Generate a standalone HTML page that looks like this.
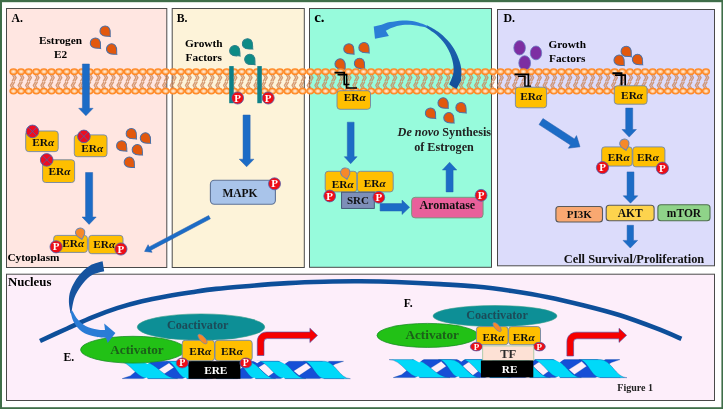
<!DOCTYPE html>
<html><head><meta charset="utf-8"><title>Figure 1</title>
<style>html,body{margin:0;padding:0;background:#fff;}body{width:723px;height:409px;overflow:hidden;}svg{display:block;font-family:"Liberation Serif",serif;will-change:transform;}</style>
</head><body>
<svg width="723" height="409" viewBox="0 0 723 409">
<rect x="0" y="0" width="723" height="409" fill="#3f6e49"/>
<defs><filter id="soft" x="-2%" y="-2%" width="104%" height="104%"><feGaussianBlur stdDeviation="0.45"/></filter></defs>
<g filter="url(#soft)">
<rect x="2" y="2.2" width="719.4" height="405" fill="#ffffff"/>
<rect x="6.5" y="8.5" width="160.3" height="259.0" fill="#ffe6e1" stroke="#4a4a4a" stroke-width="1"/>
<rect x="172.2" y="8.5" width="132.10000000000002" height="259.0" fill="#fdf3d9" stroke="#4a4a4a" stroke-width="1"/>
<rect x="309.5" y="8.5" width="182.0" height="258.8" fill="#97fbdc" stroke="#4a4a4a" stroke-width="1"/>
<rect x="497.5" y="9.5" width="217.0" height="256.3" fill="#dcdcfb" stroke="#4a4a4a" stroke-width="1"/>
<rect x="6.5" y="274.2" width="708.0" height="126.30000000000001" fill="#fdeefa" stroke="#4a4a4a" stroke-width="1"/>
<text x="11.60" y="22.10" font-size="11.7" text-anchor="start" fill="#000" font-weight="bold" font-style="normal" >A.</text>
<text x="60.50" y="44.20" font-size="11.3" text-anchor="middle" fill="#000" font-weight="bold" font-style="normal" >Estrogen</text>
<text x="60.50" y="57.60" font-size="11.3" text-anchor="middle" fill="#000" font-weight="bold" font-style="normal" >E2</text>
<path d="M0,7.2 C-1.4,5 -5.1,3.4 -5.1,-0.5 A5.1,4.9 0 1 1 5.1,-0.5 C5.1,3.4 1.4,5 0,7.2 Z" transform="translate(105.30,31.30) rotate(-44) scale(1.0)" fill="#e2590a" stroke="#4a70a8" stroke-width="1.00"/>
<path d="M0,7.2 C-1.4,5 -5.1,3.4 -5.1,-0.5 A5.1,4.9 0 1 1 5.1,-0.5 C5.1,3.4 1.4,5 0,7.2 Z" transform="translate(95.60,43.30) rotate(-44) scale(1.0)" fill="#e2590a" stroke="#4a70a8" stroke-width="1.00"/>
<path d="M0,7.2 C-1.4,5 -5.1,3.4 -5.1,-0.5 A5.1,4.9 0 1 1 5.1,-0.5 C5.1,3.4 1.4,5 0,7.2 Z" transform="translate(111.80,49.20) rotate(-44) scale(1.0)" fill="#e2590a" stroke="#4a70a8" stroke-width="1.00"/>
<rect x="25.70" y="131.00" width="32.50" height="20.60" rx="3" ry="3" fill="#ffbf00" stroke="#6f86a8" stroke-width="0.9" />
<text x="43.15" y="146.03" font-size="11.3" text-anchor="middle" font-weight="bold" fill="#111">ER<tspan font-style="italic">α</tspan></text>
<rect x="74.30" y="134.90" width="32.70" height="21.80" rx="3" ry="3" fill="#ffbf00" stroke="#6f86a8" stroke-width="0.9" />
<text x="92.15" y="151.63" font-size="11.3" text-anchor="middle" font-weight="bold" fill="#111">ER<tspan font-style="italic">α</tspan></text>
<rect x="42.60" y="159.80" width="32.00" height="22.70" rx="3" ry="3" fill="#ffbf00" stroke="#6f86a8" stroke-width="0.9" />
<text x="59.40" y="175.38" font-size="11.3" text-anchor="middle" font-weight="bold" fill="#111">ER<tspan font-style="italic">α</tspan></text>
<circle cx="32.50" cy="131.40" r="6.3" fill="#ec0a20" stroke="#4f62a8" stroke-width="0.9"/>
<path d="M28.09,126.99 L36.91,135.81 M36.91,126.99 L28.09,135.81" stroke="#5a5aa0" stroke-width="0.9" fill="none"/>
<circle cx="83.90" cy="136.40" r="6.3" fill="#ec0a20" stroke="#4f62a8" stroke-width="0.9"/>
<path d="M79.49,131.99 L88.31,140.81 M88.31,131.99 L79.49,140.81" stroke="#5a5aa0" stroke-width="0.9" fill="none"/>
<circle cx="46.70" cy="159.90" r="6.3" fill="#ec0a20" stroke="#4f62a8" stroke-width="0.9"/>
<path d="M42.29,155.49 L51.11,164.31 M51.11,155.49 L42.29,164.31" stroke="#5a5aa0" stroke-width="0.9" fill="none"/>
<path d="M0,7.2 C-1.4,5 -5.1,3.4 -5.1,-0.5 A5.1,4.9 0 1 1 5.1,-0.5 C5.1,3.4 1.4,5 0,7.2 Z" transform="translate(131.50,133.80) rotate(-44) scale(1.0)" fill="#e2590a" stroke="#4a70a8" stroke-width="1.00"/>
<path d="M0,7.2 C-1.4,5 -5.1,3.4 -5.1,-0.5 A5.1,4.9 0 1 1 5.1,-0.5 C5.1,3.4 1.4,5 0,7.2 Z" transform="translate(145.60,138.20) rotate(-44) scale(1.0)" fill="#e2590a" stroke="#4a70a8" stroke-width="1.00"/>
<path d="M0,7.2 C-1.4,5 -5.1,3.4 -5.1,-0.5 A5.1,4.9 0 1 1 5.1,-0.5 C5.1,3.4 1.4,5 0,7.2 Z" transform="translate(121.90,146.00) rotate(-44) scale(1.0)" fill="#e2590a" stroke="#4a70a8" stroke-width="1.00"/>
<path d="M0,7.2 C-1.4,5 -5.1,3.4 -5.1,-0.5 A5.1,4.9 0 1 1 5.1,-0.5 C5.1,3.4 1.4,5 0,7.2 Z" transform="translate(137.50,149.90) rotate(-44) scale(1.0)" fill="#e2590a" stroke="#4a70a8" stroke-width="1.00"/>
<path d="M0,7.2 C-1.4,5 -5.1,3.4 -5.1,-0.5 A5.1,4.9 0 1 1 5.1,-0.5 C5.1,3.4 1.4,5 0,7.2 Z" transform="translate(129.50,162.40) rotate(-44) scale(1.0)" fill="#e2590a" stroke="#4a70a8" stroke-width="1.00"/>
<rect x="53.70" y="235.40" width="33.70" height="17.00" rx="3" ry="3" fill="#ffbf00" stroke="#6f86a8" stroke-width="0.9" />
<text x="73.25" y="247.13" font-size="11.3" text-anchor="middle" font-weight="bold" fill="#111">ER<tspan font-style="italic">α</tspan></text>
<rect x="88.70" y="235.40" width="34.30" height="18.30" rx="3" ry="3" fill="#ffbf00" stroke="#6f86a8" stroke-width="0.9" />
<text x="104.25" y="248.08" font-size="11.3" text-anchor="middle" font-weight="bold" fill="#111">ER<tspan font-style="italic">α</tspan></text>
<path d="M0,7.2 C-1.4,5 -5.1,3.4 -5.1,-0.5 A5.1,4.9 0 1 1 5.1,-0.5 C5.1,3.4 1.4,5 0,7.2 Z" transform="translate(80.30,233.00) rotate(-14) scale(0.92)" fill="#f6892c" stroke="#6a86b0" stroke-width="1.09"/>
<ellipse cx="56.10" cy="246.80" rx="6.1" ry="6.1" fill="#ee0a14" stroke="#4f5fae" stroke-width="0.8"/>
<text x="56.10" y="250.49" font-size="11" text-anchor="middle" font-weight="bold" fill="#fff">P</text>
<ellipse cx="120.90" cy="249.00" rx="6.1" ry="6.1" fill="#ee0a14" stroke="#4f5fae" stroke-width="0.8"/>
<text x="120.90" y="252.69" font-size="11" text-anchor="middle" font-weight="bold" fill="#fff">P</text>
<text x="7.40" y="261.30" font-size="11.3" text-anchor="start" fill="#000" font-weight="bold" font-style="normal" >Cytoplasm</text>
<polygon transform="translate(209.50,217.20) rotate(152.21)" points="0.00,-1.85 67.16,-1.85 67.16,-4.30 73.36,0.00 67.16,4.30 67.16,1.85 0.00,1.85" fill="#1a6cc6" stroke="#2a62b0" stroke-width="0.5"/>
<text x="176.80" y="22.10" font-size="11.7" text-anchor="start" fill="#000" font-weight="bold" font-style="normal" >B.</text>
<text x="203.80" y="46.60" font-size="11.3" text-anchor="middle" fill="#000" font-weight="bold" font-style="normal" >Growth</text>
<text x="203.80" y="60.50" font-size="11.3" text-anchor="middle" fill="#000" font-weight="bold" font-style="normal" >Factors</text>
<path d="M0,7.2 C-1.4,5 -5.1,3.4 -5.1,-0.5 A5.1,4.9 0 1 1 5.1,-0.5 C5.1,3.4 1.4,5 0,7.2 Z" transform="translate(247.70,44.00) rotate(-45) scale(1.0)" fill="#0d8b85" stroke="#2a7f8a" stroke-width="1.00"/>
<path d="M0,7.2 C-1.4,5 -5.1,3.4 -5.1,-0.5 A5.1,4.9 0 1 1 5.1,-0.5 C5.1,3.4 1.4,5 0,7.2 Z" transform="translate(235.00,50.90) rotate(-45) scale(1.0)" fill="#0d8b85" stroke="#2a7f8a" stroke-width="1.00"/>
<path d="M0,7.2 C-1.4,5 -5.1,3.4 -5.1,-0.5 A5.1,4.9 0 1 1 5.1,-0.5 C5.1,3.4 1.4,5 0,7.2 Z" transform="translate(250.00,59.60) rotate(-45) scale(1.0)" fill="#0d8b85" stroke="#2a7f8a" stroke-width="1.00"/>
<rect x="210.40" y="180.20" width="65.00" height="24.10" rx="4" ry="4" fill="#a9c4ea" stroke="#5f7396" stroke-width="1.1" />
<text x="240.00" y="197.00" font-size="11.5" text-anchor="middle" fill="#111" font-weight="bold" font-style="normal" >MAPK</text>
<ellipse cx="274.50" cy="183.80" rx="6.0" ry="6.0" fill="#ee0a14" stroke="#4f5fae" stroke-width="0.8"/>
<text x="274.50" y="187.49" font-size="11" text-anchor="middle" font-weight="bold" fill="#fff">P</text>
<text x="314.20" y="22.20" font-size="15" text-anchor="start" fill="#000" font-weight="bold" font-style="normal" >c.</text>
<path d="M0,7.2 C-1.4,5 -5.1,3.4 -5.1,-0.5 A5.1,4.9 0 1 1 5.1,-0.5 C5.1,3.4 1.4,5 0,7.2 Z" transform="translate(349.10,49.00) rotate(-44) scale(1.0)" fill="#e2590a" stroke="#4a70a8" stroke-width="1.00"/>
<path d="M0,7.2 C-1.4,5 -5.1,3.4 -5.1,-0.5 A5.1,4.9 0 1 1 5.1,-0.5 C5.1,3.4 1.4,5 0,7.2 Z" transform="translate(364.20,47.80) rotate(-44) scale(1.0)" fill="#e2590a" stroke="#4a70a8" stroke-width="1.00"/>
<path d="M0,7.2 C-1.4,5 -5.1,3.4 -5.1,-0.5 A5.1,4.9 0 1 1 5.1,-0.5 C5.1,3.4 1.4,5 0,7.2 Z" transform="translate(340.30,64.20) rotate(-44) scale(1.0)" fill="#e2590a" stroke="#4a70a8" stroke-width="1.00"/>
<path d="M0,7.2 C-1.4,5 -5.1,3.4 -5.1,-0.5 A5.1,4.9 0 1 1 5.1,-0.5 C5.1,3.4 1.4,5 0,7.2 Z" transform="translate(359.70,63.60) rotate(-44) scale(1.0)" fill="#e2590a" stroke="#4a70a8" stroke-width="1.00"/>
<path d="M0,7.2 C-1.4,5 -5.1,3.4 -5.1,-0.5 A5.1,4.9 0 1 1 5.1,-0.5 C5.1,3.4 1.4,5 0,7.2 Z" transform="translate(443.30,103.20) rotate(-44) scale(1.0)" fill="#e2590a" stroke="#4a70a8" stroke-width="1.00"/>
<path d="M0,7.2 C-1.4,5 -5.1,3.4 -5.1,-0.5 A5.1,4.9 0 1 1 5.1,-0.5 C5.1,3.4 1.4,5 0,7.2 Z" transform="translate(461.20,107.80) rotate(-44) scale(1.0)" fill="#e2590a" stroke="#4a70a8" stroke-width="1.00"/>
<path d="M0,7.2 C-1.4,5 -5.1,3.4 -5.1,-0.5 A5.1,4.9 0 1 1 5.1,-0.5 C5.1,3.4 1.4,5 0,7.2 Z" transform="translate(430.70,113.30) rotate(-44) scale(1.0)" fill="#e2590a" stroke="#4a70a8" stroke-width="1.00"/>
<path d="M0,7.2 C-1.4,5 -5.1,3.4 -5.1,-0.5 A5.1,4.9 0 1 1 5.1,-0.5 C5.1,3.4 1.4,5 0,7.2 Z" transform="translate(449.10,117.90) rotate(-44) scale(1.0)" fill="#e2590a" stroke="#4a70a8" stroke-width="1.00"/>
<text x="397.6" y="136.2" font-size="12.2" font-weight="bold" fill="#222"><tspan font-style="italic">De novo</tspan> Synthesis</text>
<text x="444.00" y="150.80" font-size="12.2" text-anchor="middle" fill="#222" font-weight="bold" font-style="normal" >of Estrogen</text>
<rect x="325.20" y="171.30" width="31.60" height="20.60" rx="3" ry="3" fill="#ffbf00" stroke="#6f86a8" stroke-width="0.9" />
<text x="342.80" y="187.53" font-size="11.3" text-anchor="middle" font-weight="bold" fill="#111">ER<tspan font-style="italic">α</tspan></text>
<rect x="357.40" y="171.30" width="35.80" height="20.60" rx="3" ry="3" fill="#ffbf00" stroke="#6f86a8" stroke-width="0.9" />
<text x="374.80" y="187.23" font-size="11.3" text-anchor="middle" font-weight="bold" fill="#111">ER<tspan font-style="italic">α</tspan></text>
<path d="M0,7.2 C-1.4,5 -5.1,3.4 -5.1,-0.5 A5.1,4.9 0 1 1 5.1,-0.5 C5.1,3.4 1.4,5 0,7.2 Z" transform="translate(345.40,172.90) rotate(-14) scale(0.92)" fill="#f6892c" stroke="#6a86b0" stroke-width="1.09"/>
<rect x="341.6" y="192.2" width="32.7" height="16.2" fill="#7d8fb8" stroke="#3f4f6f" stroke-width="0.9"/>
<text x="358.00" y="203.60" font-size="11" text-anchor="middle" fill="#111" font-weight="bold" font-style="normal" >SRC</text>
<ellipse cx="329.70" cy="196.00" rx="5.9" ry="5.9" fill="#ee0a14" stroke="#4f5fae" stroke-width="0.8"/>
<text x="329.70" y="199.69" font-size="11" text-anchor="middle" font-weight="bold" fill="#fff">P</text>
<ellipse cx="378.80" cy="197.30" rx="5.9" ry="5.9" fill="#ee0a14" stroke="#4f5fae" stroke-width="0.8"/>
<text x="378.80" y="200.99" font-size="11" text-anchor="middle" font-weight="bold" fill="#fff">P</text>
<rect x="411.60" y="197.30" width="71.50" height="20.60" rx="3.5" ry="3.5" fill="#e9619b" stroke="#6d9a7a" stroke-width="0.9" />
<text x="447.30" y="208.90" font-size="12" text-anchor="middle" fill="#111" font-weight="bold" font-style="normal" >Aromatase</text>
<ellipse cx="481.10" cy="195.30" rx="5.9" ry="5.9" fill="#ee0a14" stroke="#4f5fae" stroke-width="0.8"/>
<text x="481.10" y="198.99" font-size="11" text-anchor="middle" font-weight="bold" fill="#fff">P</text>
<polygon transform="translate(380.10,207.30) rotate(0.00)" points="0.00,-3.70 21.90,-3.70 21.90,-7.20 29.50,0.00 21.90,7.20 21.90,3.70 0.00,3.70" fill="#1a6cc6" stroke="#2a62b0" stroke-width="0.5"/>
<polygon points="446.10,191.90 453.10,191.90 453.10,170.00 456.80,170.00 449.60,162.20 442.40,170.00 446.10,170.00" fill="#1a6cc6" stroke="#2a62b0" stroke-width="0.5"/>
<polygon points="347.30,122.20 354.10,122.20 354.10,156.70 357.10,156.70 350.70,163.70 344.30,156.70 347.30,156.70" fill="#1a6cc6" stroke="#2a62b0" stroke-width="0.5"/>
<text x="503.40" y="22.40" font-size="11.9" text-anchor="start" fill="#000" font-weight="bold" font-style="normal" >D.</text>
<ellipse cx="519.6" cy="47.8" rx="5.8" ry="7.2" fill="#7d2fa2" stroke="#6a78c0" stroke-width="0.8"/>
<ellipse cx="536.0" cy="52.9" rx="5.7" ry="6.9" fill="#7d2fa2" stroke="#6a78c0" stroke-width="0.8"/>
<ellipse cx="524.7" cy="63.0" rx="5.9" ry="7.3" fill="#7d2fa2" stroke="#6a78c0" stroke-width="0.8"/>
<text x="567.20" y="48.00" font-size="11.3" text-anchor="middle" fill="#000" font-weight="bold" font-style="normal" >Growth</text>
<text x="567.20" y="61.80" font-size="11.3" text-anchor="middle" fill="#000" font-weight="bold" font-style="normal" >Factors</text>
<path d="M0,7.2 C-1.4,5 -5.1,3.4 -5.1,-0.5 A5.1,4.9 0 1 1 5.1,-0.5 C5.1,3.4 1.4,5 0,7.2 Z" transform="translate(626.40,51.60) rotate(-44) scale(1.0)" fill="#e2590a" stroke="#4a70a8" stroke-width="1.00"/>
<path d="M0,7.2 C-1.4,5 -5.1,3.4 -5.1,-0.5 A5.1,4.9 0 1 1 5.1,-0.5 C5.1,3.4 1.4,5 0,7.2 Z" transform="translate(619.30,60.40) rotate(-44) scale(1.0)" fill="#e2590a" stroke="#4a70a8" stroke-width="1.00"/>
<path d="M0,7.2 C-1.4,5 -5.1,3.4 -5.1,-0.5 A5.1,4.9 0 1 1 5.1,-0.5 C5.1,3.4 1.4,5 0,7.2 Z" transform="translate(637.70,59.70) rotate(-44) scale(1.0)" fill="#e2590a" stroke="#4a70a8" stroke-width="1.00"/>
<polygon transform="translate(541.00,121.60) rotate(32.87)" points="0.00,-3.60 37.43,-3.60 37.43,-7.50 46.43,0.00 37.43,7.50 37.43,3.60 0.00,3.60" fill="#1a6cc6" stroke="#2a62b0" stroke-width="0.5"/>
<polygon points="625.70,108.10 632.70,108.10 632.70,129.50 636.40,129.50 629.20,137.10 622.00,129.50 625.70,129.50" fill="#1a6cc6" stroke="#2a62b0" stroke-width="0.5"/>
<rect x="601.70" y="146.90" width="30.50" height="19.20" rx="3" ry="3" fill="#ffbf00" stroke="#6f86a8" stroke-width="0.9" />
<text x="618.75" y="161.03" font-size="11.3" text-anchor="middle" font-weight="bold" fill="#111">ER<tspan font-style="italic">α</tspan></text>
<rect x="632.80" y="146.90" width="32.10" height="19.90" rx="3" ry="3" fill="#ffbf00" stroke="#6f86a8" stroke-width="0.9" />
<text x="648.05" y="160.98" font-size="11.3" text-anchor="middle" font-weight="bold" fill="#111">ER<tspan font-style="italic">α</tspan></text>
<path d="M0,7.2 C-1.4,5 -5.1,3.4 -5.1,-0.5 A5.1,4.9 0 1 1 5.1,-0.5 C5.1,3.4 1.4,5 0,7.2 Z" transform="translate(624.50,144.00) rotate(-14) scale(0.92)" fill="#f6892c" stroke="#6a86b0" stroke-width="1.09"/>
<ellipse cx="602.50" cy="167.60" rx="6.1" ry="6.1" fill="#ee0a14" stroke="#4f5fae" stroke-width="0.8"/>
<text x="602.50" y="171.28" font-size="11" text-anchor="middle" font-weight="bold" fill="#fff">P</text>
<ellipse cx="662.40" cy="168.20" rx="6.1" ry="6.1" fill="#ee0a14" stroke="#4f5fae" stroke-width="0.8"/>
<text x="662.40" y="171.88" font-size="11" text-anchor="middle" font-weight="bold" fill="#fff">P</text>
<polygon points="627.05,171.90 633.95,171.90 633.95,195.80 637.80,195.80 630.50,203.20 623.20,195.80 627.05,195.80" fill="#1a6cc6" stroke="#2a62b0" stroke-width="0.5"/>
<rect x="555.90" y="206.50" width="46.60" height="15.50" rx="3" ry="3" fill="#f9a871" stroke="#5a5a5a" stroke-width="1.1" />
<text x="579.20" y="218.30" font-size="11" text-anchor="middle" fill="#111" font-weight="bold" font-style="normal" >PI3K</text>
<rect x="606.20" y="205.30" width="47.90" height="15.50" rx="3" ry="3" fill="#fdd34e" stroke="#5a5a5a" stroke-width="1.1" />
<text x="630.20" y="217.20" font-size="11.5" text-anchor="middle" fill="#111" font-weight="bold" font-style="normal" >AKT</text>
<rect x="657.90" y="204.80" width="52.10" height="16.00" rx="3" ry="3" fill="#8fd389" stroke="#4f6f4f" stroke-width="1.1" />
<text x="684.00" y="216.80" font-size="11.5" text-anchor="middle" fill="#111" font-weight="bold" font-style="normal" >mTOR</text>
<polygon points="627.10,225.30 633.50,225.30 633.50,240.40 637.60,240.40 630.30,248.00 623.00,240.40 627.10,240.40" fill="#1a6cc6" stroke="#2a62b0" stroke-width="0.5"/>
<text x="634.00" y="262.50" font-size="12.4" text-anchor="middle" fill="#111" font-weight="bold" font-style="normal" >Cell Survival/Proliferation</text>
<defs>
<radialGradient id="hg" cx="0.5" cy="0.5" r="0.5"><stop offset="0" stop-color="#fff4e8"/><stop offset="0.35" stop-color="#ffd6ae"/><stop offset="1" stop-color="#ff943a"/></radialGradient>
<g id="lip"><path d="M-1.5,74.2 L0.7,77.7 L-1.5,81.3 M0.5,74.2 L2.7,77.7 L0.5,81.3" fill="none" stroke="#cc8558" stroke-opacity="0.8" stroke-width="1.35" stroke-linejoin="round"/><path d="M1.2,88.8 L-1.0,85.3 L1.2,81.8 M-0.8,88.8 L-3.0,85.3 L-0.8,81.8" fill="none" stroke="#cc8558" stroke-opacity="0.8" stroke-width="1.35" stroke-linejoin="round"/><ellipse cx="0" cy="71.7" rx="3.45" ry="2.75" fill="url(#hg)" stroke="#ff8a26" stroke-width="1.3"/><ellipse cx="0" cy="91.1" rx="3.45" ry="2.75" fill="url(#hg)" stroke="#ff8a26" stroke-width="1.3"/></g>
</defs>
<use href="#lip" x="13.47"/>
<use href="#lip" x="21.08"/>
<use href="#lip" x="28.69"/>
<use href="#lip" x="36.30"/>
<use href="#lip" x="43.91"/>
<use href="#lip" x="51.52"/>
<use href="#lip" x="59.13"/>
<use href="#lip" x="66.74"/>
<use href="#lip" x="74.35"/>
<use href="#lip" x="81.96"/>
<use href="#lip" x="89.57"/>
<use href="#lip" x="97.18"/>
<use href="#lip" x="104.79"/>
<use href="#lip" x="112.40"/>
<use href="#lip" x="120.01"/>
<use href="#lip" x="127.62"/>
<use href="#lip" x="135.23"/>
<use href="#lip" x="142.84"/>
<use href="#lip" x="150.45"/>
<use href="#lip" x="158.06"/>
<use href="#lip" x="165.67"/>
<use href="#lip" x="173.28"/>
<use href="#lip" x="180.89"/>
<use href="#lip" x="188.50"/>
<use href="#lip" x="196.11"/>
<use href="#lip" x="203.72"/>
<use href="#lip" x="211.33"/>
<use href="#lip" x="218.94"/>
<use href="#lip" x="226.55"/>
<use href="#lip" x="234.16"/>
<use href="#lip" x="241.77"/>
<use href="#lip" x="249.38"/>
<use href="#lip" x="256.99"/>
<use href="#lip" x="264.60"/>
<use href="#lip" x="272.21"/>
<use href="#lip" x="279.82"/>
<use href="#lip" x="287.43"/>
<use href="#lip" x="295.04"/>
<use href="#lip" x="302.65"/>
<use href="#lip" x="310.26"/>
<use href="#lip" x="317.87"/>
<use href="#lip" x="325.48"/>
<use href="#lip" x="333.09"/>
<use href="#lip" x="340.70"/>
<use href="#lip" x="348.31"/>
<use href="#lip" x="355.92"/>
<use href="#lip" x="363.53"/>
<use href="#lip" x="371.14"/>
<use href="#lip" x="378.75"/>
<use href="#lip" x="386.36"/>
<use href="#lip" x="393.97"/>
<use href="#lip" x="401.58"/>
<use href="#lip" x="409.19"/>
<use href="#lip" x="416.80"/>
<use href="#lip" x="424.41"/>
<use href="#lip" x="432.02"/>
<use href="#lip" x="439.63"/>
<use href="#lip" x="447.24"/>
<use href="#lip" x="454.85"/>
<use href="#lip" x="462.46"/>
<use href="#lip" x="470.07"/>
<use href="#lip" x="477.68"/>
<use href="#lip" x="485.29"/>
<use href="#lip" x="492.90"/>
<use href="#lip" x="500.51"/>
<use href="#lip" x="508.12"/>
<use href="#lip" x="515.73"/>
<use href="#lip" x="523.34"/>
<use href="#lip" x="530.95"/>
<use href="#lip" x="538.56"/>
<use href="#lip" x="546.17"/>
<use href="#lip" x="553.78"/>
<use href="#lip" x="561.39"/>
<use href="#lip" x="569.00"/>
<use href="#lip" x="576.61"/>
<use href="#lip" x="584.22"/>
<use href="#lip" x="591.83"/>
<use href="#lip" x="599.44"/>
<use href="#lip" x="607.05"/>
<use href="#lip" x="614.66"/>
<use href="#lip" x="622.27"/>
<use href="#lip" x="629.88"/>
<use href="#lip" x="637.49"/>
<use href="#lip" x="645.10"/>
<use href="#lip" x="652.71"/>
<use href="#lip" x="660.32"/>
<use href="#lip" x="667.93"/>
<use href="#lip" x="675.54"/>
<use href="#lip" x="683.15"/>
<use href="#lip" x="690.76"/>
<use href="#lip" x="698.37"/>
<use href="#lip" x="705.98"/>
<polygon points="82.40,64.00 89.40,64.00 89.40,108.30 93.10,108.30 85.90,115.70 78.70,108.30 82.40,108.30" fill="#1a6cc6" stroke="#2a62b0" stroke-width="0.5"/>
<polygon points="85.55,172.50 92.65,172.50 92.65,217.00 96.20,217.00 89.10,224.40 82.00,217.00 85.55,217.00" fill="#1a6cc6" stroke="#2a62b0" stroke-width="0.5"/>
<rect x="229.2" y="66.1" width="4.5" height="37.1" fill="#0d8088"/>
<rect x="257.3" y="66.1" width="4.5" height="37.1" fill="#0d8088"/>
<ellipse cx="237.60" cy="98.00" rx="6.0" ry="6.0" fill="#ee0a14" stroke="#4f5fae" stroke-width="0.8"/>
<text x="237.60" y="101.69" font-size="11" text-anchor="middle" font-weight="bold" fill="#fff">P</text>
<ellipse cx="268.20" cy="98.00" rx="6.0" ry="6.0" fill="#ee0a14" stroke="#4f5fae" stroke-width="0.8"/>
<text x="268.20" y="101.69" font-size="11" text-anchor="middle" font-weight="bold" fill="#fff">P</text>
<polygon points="243.05,115.00 250.15,115.00 250.15,159.20 253.95,159.20 246.60,166.80 239.25,159.20 243.05,159.20" fill="#1a6cc6" stroke="#2a62b0" stroke-width="0.5"/>
<defs><linearGradient id="cg" x1="0" y1="1" x2="0" y2="0"><stop offset="0" stop-color="#164f98"/><stop offset="1" stop-color="#1d66b8"/></linearGradient></defs>
<path d="M461.0,80.7 C461.0,78.6 461.8,72.4 461.2,68.2 C460.6,64.0 459.3,59.9 457.5,55.7 C455.7,51.6 453.1,47.1 450.2,43.3 C447.2,39.5 443.6,35.9 439.8,32.9 C436.0,29.9 429.5,26.6 427.4,25.4 L425.3,27.3 C426.0,27.7 427.2,28.2 429.5,29.8 C431.8,31.4 435.9,34.1 438.8,37.0 C441.7,39.9 444.9,43.6 447.1,47.4 C449.4,51.2 451.2,55.7 452.3,59.9 C453.4,64.1 453.9,68.3 453.4,72.4 C452.9,76.5 449.9,82.4 449.2,84.4 L456.5,89.0 Z" fill="url(#cg)"/>
<path d="M428.4,26.0 C426.1,25.2 419.2,22.3 414.9,21.4 C410.6,20.5 406.6,20.3 402.4,20.4 C398.2,20.5 393.4,21.4 389.9,22.1 C386.4,22.8 384.3,24.1 381.6,24.8 C378.9,25.6 375.0,26.3 373.7,26.6 L375.0,38.7 L388.9,36.0 L385.8,30.8 L385.8,30.8 C386.8,30.3 389.2,28.7 392.0,27.7 C394.8,26.7 398.9,25.4 402.4,25.0 C405.9,24.6 409.0,24.6 412.8,25.0 C416.6,25.4 423.2,26.9 425.3,27.3 Z" fill="#2b7ed6"/>
<polyline points="334.5,72.6 344.2,72.6 344.2,84.5 349.5,84.5" fill="none" stroke="#000" stroke-width="1.6"/>
<polyline points="337.5,74.6 346.6,74.6 346.6,88.0 357.0,88.0" fill="none" stroke="#000" stroke-width="1.6"/>
<rect x="337.00" y="90.70" width="33.50" height="18.60" rx="3" ry="3" fill="#ffbf00" stroke="#6f86a8" stroke-width="0.9" />
<text x="354.75" y="101.23" font-size="11.3" text-anchor="middle" font-weight="bold" fill="#111">ER<tspan font-style="italic">α</tspan></text>
<polyline points="514.5,74.3 528.4,74.3 528.4,86.2" fill="none" stroke="#000" stroke-width="1.8"/>
<polyline points="518.0,76.3 524.9,76.3 524.9,86.2 531.0,86.2" fill="none" stroke="#000" stroke-width="1.5"/>
<rect x="515.40" y="87.20" width="31.20" height="20.60" rx="3" ry="3" fill="#ffbf00" stroke="#6f86a8" stroke-width="0.9" />
<text x="531.30" y="99.93" font-size="11.3" text-anchor="middle" font-weight="bold" fill="#111">ER<tspan font-style="italic">α</tspan></text>
<polyline points="612.4,73.2 621.5,73.2 621.5,86.8" fill="none" stroke="#000" stroke-width="1.9"/>
<polyline points="615.0,75.2 625.2,75.2 625.2,86.8 632.0,86.8" fill="none" stroke="#000" stroke-width="1.7"/>
<rect x="614.30" y="85.80" width="32.80" height="18.40" rx="3" ry="3" fill="#ffbf00" stroke="#6f86a8" stroke-width="0.9" />
<text x="632.10" y="98.73" font-size="11.3" text-anchor="middle" font-weight="bold" fill="#111">ER<tspan font-style="italic">α</tspan></text>
<text x="8.00" y="285.80" font-size="12.8" text-anchor="start" fill="#000" font-weight="bold" font-style="normal" >Nucleus</text>
<path d="M40.0,341.0 C44.5,338.9 58.6,332.4 67.3,328.5 C76.0,324.6 83.9,320.7 92.2,317.3 C100.5,313.9 108.8,310.8 117.1,308.1 C125.4,305.4 133.7,303.2 142.0,301.2 C150.3,299.2 158.6,297.7 166.9,296.2 C175.2,294.7 183.6,293.4 191.8,292.2 C200.0,291.0 206.0,290.0 216.0,288.9 C226.0,287.8 240.0,286.7 252.0,285.7 C264.0,284.7 276.0,283.8 288.0,283.1 C300.0,282.4 312.0,282.0 324.0,281.7 C336.0,281.4 348.0,281.2 360.0,281.3 C372.0,281.4 382.7,281.5 396.0,282.0 C409.3,282.5 426.7,283.4 440.0,284.1 C453.3,284.9 464.0,285.4 476.0,286.5 C488.0,287.6 500.0,289.2 512.0,291.0 C524.0,292.8 536.0,294.8 548.0,297.2 C560.0,299.6 572.0,302.5 584.0,305.5 C596.0,308.5 608.0,311.5 620.0,315.3 C632.0,319.1 645.8,324.3 656.0,328.2 C666.2,332.1 677.2,337.0 681.4,338.8" fill="none" stroke="#0f4f9a" stroke-width="4.6"/>
<g>
<polygon points="122.2,378.6 130.3,375.9 137.0,370.6 141.2,361.3 343.5,361.3 335.2,364.0 329.7,367.4 338.0,374.4 344.0,378.6" fill="#1250d6" stroke="#1448a0" stroke-width="0.35" stroke-linejoin="round"/>
<polygon points="156.4,370.9 169.0,363.0 173.9,367.6 161.9,375.6" fill="#fdeefa" stroke="#1448a0" stroke-width="0.25" stroke-linejoin="round"/>
<polygon points="225.0,370.9 237.6,363.0 242.5,367.6 230.5,375.6" fill="#fdeefa" stroke="#1448a0" stroke-width="0.25" stroke-linejoin="round"/>
<polygon points="293.6,370.9 306.2,363.0 311.1,367.6 299.1,375.6" fill="#fdeefa" stroke="#1448a0" stroke-width="0.25" stroke-linejoin="round"/>
<polygon points="258.3,367.6 265.4,363.0 275.6,371.3 268.4,376.5" fill="#fdeefa" stroke="#1448a0" stroke-width="0.25" stroke-linejoin="round"/>
<polygon points="189.7,367.6 196.8,363.0 207.0,371.3 199.8,376.5" fill="#fdeefa" stroke="#1448a0" stroke-width="0.25" stroke-linejoin="round"/>
<path d="M118.1,361.3 C130.9,361.3 135.8,378.6 148.6,378.6 L177.6,378.6 C162.3,378.6 156.5,361.3 141.2,361.3 Z" fill="#00d9f9" stroke="#1448a0" stroke-width="0.35" stroke-linejoin="round"/>
<path d="M188.7,361.3 C200.4,361.3 204.9,378.6 216.6,378.6 L237.3,378.6 C225.5,378.6 220.9,361.3 209.1,361.3 Z" fill="#00d9f9" stroke="#1448a0" stroke-width="0.35" stroke-linejoin="round"/>
<path d="M257.3,361.3 C269.0,361.3 273.5,378.6 285.2,378.6 L305.9,378.6 C294.1,378.6 289.5,361.3 277.7,361.3 Z" fill="#00d9f9" stroke="#1448a0" stroke-width="0.35" stroke-linejoin="round"/>
<path d="M166.3,361.3 C175.0,361.3 178.3,378.6 187.0,378.6 L207.0,378.6 C194.7,378.6 190.0,361.3 177.8,361.3 Z" fill="#00d9f9" stroke="#1448a0" stroke-width="0.35" stroke-linejoin="round"/>
<path d="M234.9,361.3 C243.6,361.3 246.9,378.6 255.6,378.6 L275.6,378.6 C263.3,378.6 258.6,361.3 246.4,361.3 Z" fill="#00d9f9" stroke="#1448a0" stroke-width="0.35" stroke-linejoin="round"/>
<polygon points="141.3,360.7 152.1,360.7 147.5,364.0" fill="#fdeefa"/>
<polygon points="142.6,379.2 148.3,379.2 146.5,377.4" fill="#fdeefa"/>
<polygon points="209.9,360.7 220.7,360.7 216.1,364.0" fill="#fdeefa"/>
<polygon points="211.2,379.2 216.9,379.2 215.1,377.4" fill="#fdeefa"/>
<polygon points="278.5,360.7 289.3,360.7 284.7,364.0" fill="#fdeefa"/>
<polygon points="279.8,379.2 285.5,379.2 283.7,377.4" fill="#fdeefa"/>
<polygon points="184.3,360.7 192.3,360.7 188.6,363.3" fill="#fdeefa"/>
<polygon points="181.8,379.2 187.3,379.2 185.7,377.4" fill="#fdeefa"/>
<polygon points="252.9,360.7 260.9,360.7 257.2,363.3" fill="#fdeefa"/>
<polygon points="250.4,379.2 255.9,379.2 254.3,377.4" fill="#fdeefa"/>
<polygon points="321.5,360.7 329.5,360.7 325.8,363.3" fill="#fdeefa"/>
<polygon points="319.0,379.2 324.5,379.2 322.9,377.4" fill="#fdeefa"/>
<path d="M303.5,361.3 C312.2,361.3 315.5,378.6 324.2,378.6 L350.4,378.7 C339.4,378.7 335.2,361.3 324.2,361.3 Z" fill="#00d9f9" stroke="#1448a0" stroke-width="0.35" stroke-linejoin="round"/>
</g>
<g transform="translate(389.1,359.6) scale(1.0238,1.04) translate(-118.1,-361.3)">
<polygon points="122.2,378.6 130.3,375.9 137.0,370.6 141.2,361.3 343.5,361.3 335.2,364.0 329.7,367.4 338.0,374.4 344.0,378.6" fill="#1250d6" stroke="#1448a0" stroke-width="0.35" stroke-linejoin="round"/>
<polygon points="156.4,370.9 169.0,363.0 173.9,367.6 161.9,375.6" fill="#fdeefa" stroke="#1448a0" stroke-width="0.25" stroke-linejoin="round"/>
<polygon points="225.0,370.9 237.6,363.0 242.5,367.6 230.5,375.6" fill="#fdeefa" stroke="#1448a0" stroke-width="0.25" stroke-linejoin="round"/>
<polygon points="293.6,370.9 306.2,363.0 311.1,367.6 299.1,375.6" fill="#fdeefa" stroke="#1448a0" stroke-width="0.25" stroke-linejoin="round"/>
<polygon points="258.3,367.6 265.4,363.0 275.6,371.3 268.4,376.5" fill="#fdeefa" stroke="#1448a0" stroke-width="0.25" stroke-linejoin="round"/>
<polygon points="189.7,367.6 196.8,363.0 207.0,371.3 199.8,376.5" fill="#fdeefa" stroke="#1448a0" stroke-width="0.25" stroke-linejoin="round"/>
<path d="M118.1,361.3 C130.9,361.3 135.8,378.6 148.6,378.6 L177.6,378.6 C162.3,378.6 156.5,361.3 141.2,361.3 Z" fill="#00d9f9" stroke="#1448a0" stroke-width="0.35" stroke-linejoin="round"/>
<path d="M188.7,361.3 C200.4,361.3 204.9,378.6 216.6,378.6 L237.3,378.6 C225.5,378.6 220.9,361.3 209.1,361.3 Z" fill="#00d9f9" stroke="#1448a0" stroke-width="0.35" stroke-linejoin="round"/>
<path d="M257.3,361.3 C269.0,361.3 273.5,378.6 285.2,378.6 L305.9,378.6 C294.1,378.6 289.5,361.3 277.7,361.3 Z" fill="#00d9f9" stroke="#1448a0" stroke-width="0.35" stroke-linejoin="round"/>
<path d="M166.3,361.3 C175.0,361.3 178.3,378.6 187.0,378.6 L207.0,378.6 C194.7,378.6 190.0,361.3 177.8,361.3 Z" fill="#00d9f9" stroke="#1448a0" stroke-width="0.35" stroke-linejoin="round"/>
<path d="M234.9,361.3 C243.6,361.3 246.9,378.6 255.6,378.6 L275.6,378.6 C263.3,378.6 258.6,361.3 246.4,361.3 Z" fill="#00d9f9" stroke="#1448a0" stroke-width="0.35" stroke-linejoin="round"/>
<polygon points="141.3,360.7 152.1,360.7 147.5,364.0" fill="#fdeefa"/>
<polygon points="142.6,379.2 148.3,379.2 146.5,377.4" fill="#fdeefa"/>
<polygon points="209.9,360.7 220.7,360.7 216.1,364.0" fill="#fdeefa"/>
<polygon points="211.2,379.2 216.9,379.2 215.1,377.4" fill="#fdeefa"/>
<polygon points="278.5,360.7 289.3,360.7 284.7,364.0" fill="#fdeefa"/>
<polygon points="279.8,379.2 285.5,379.2 283.7,377.4" fill="#fdeefa"/>
<polygon points="184.3,360.7 192.3,360.7 188.6,363.3" fill="#fdeefa"/>
<polygon points="181.8,379.2 187.3,379.2 185.7,377.4" fill="#fdeefa"/>
<polygon points="252.9,360.7 260.9,360.7 257.2,363.3" fill="#fdeefa"/>
<polygon points="250.4,379.2 255.9,379.2 254.3,377.4" fill="#fdeefa"/>
<polygon points="321.5,360.7 329.5,360.7 325.8,363.3" fill="#fdeefa"/>
<polygon points="319.0,379.2 324.5,379.2 322.9,377.4" fill="#fdeefa"/>
<path d="M303.5,361.3 C312.2,361.3 315.5,378.6 324.2,378.6 L350.4,378.7 C339.4,378.7 335.2,361.3 324.2,361.3 Z" fill="#00d9f9" stroke="#1448a0" stroke-width="0.35" stroke-linejoin="round"/>
</g>
<ellipse cx="201" cy="327.1" rx="63.8" ry="13.2" fill="#0b8f96" stroke="#3aa08a" stroke-width="0.6"/>
<ellipse cx="133" cy="349.7" rx="52.4" ry="13.4" fill="#22c112" stroke="#1c8f2a" stroke-width="0.8"/>
<text x="197.70" y="329.20" font-size="12.2" text-anchor="middle" fill="#1d4b58" font-weight="bold" font-style="normal" >Coactivator</text>
<text x="137.00" y="353.80" font-size="13.2" text-anchor="middle" fill="#1a5e1a" font-weight="bold" font-style="normal" >Activator</text>
<rect x="182.20" y="340.30" width="32.30" height="20.50" rx="3" ry="3" fill="#ffbf00" stroke="#6f86a8" stroke-width="0.9" />
<text x="200.35" y="355.28" font-size="11.3" text-anchor="middle" font-weight="bold" fill="#111">ER<tspan font-style="italic">α</tspan></text>
<rect x="215.00" y="340.30" width="37.20" height="20.50" rx="3" ry="3" fill="#ffbf00" stroke="#6f86a8" stroke-width="0.9" />
<text x="232.00" y="355.28" font-size="11.3" text-anchor="middle" font-weight="bold" fill="#111">ER<tspan font-style="italic">α</tspan></text>
<ellipse cx="202.5" cy="339.0" rx="6.2" ry="2.6" transform="rotate(47 202.5 339)" fill="#f6892c" stroke="#6a86b0" stroke-width="0.7"/>
<rect x="188.5" y="361.2" width="51.9" height="17.6" fill="#000"/>
<text x="215.80" y="374.00" font-size="11.3" text-anchor="middle" fill="#fff" font-weight="bold" font-style="normal" >ERE</text>
<ellipse cx="182.20" cy="363.00" rx="6.0" ry="5.0" fill="#ee0a14" stroke="#4f5fae" stroke-width="0.8"/>
<text x="182.20" y="366.35" font-size="10" text-anchor="middle" font-weight="bold" fill="#fff">P</text>
<ellipse cx="245.90" cy="363.00" rx="6.0" ry="5.0" fill="#ee0a14" stroke="#4f5fae" stroke-width="0.8"/>
<text x="245.90" y="366.35" font-size="10" text-anchor="middle" font-weight="bold" fill="#fff">P</text>
<path d="M257.3,355.5 L257.3,341.5 C257.3,335.99 261.29,332.0 266.8,332.0 L309.9,332.0 L309.9,328.2 L317.5,335.4 L309.9,342.6 L309.9,338.6 L267.4,338.6 Q264.0,338.6 264.0,342.0 L264.0,355.5 Z" fill="#f60006" stroke="#4a4fa6" stroke-width="0.6" stroke-linejoin="round"/>
<text x="63.50" y="361.40" font-size="11.6" text-anchor="start" fill="#000" font-weight="bold" font-style="normal" >E.</text>
<ellipse cx="495" cy="316.0" rx="62" ry="10.5" fill="#0b8f96" stroke="#3aa08a" stroke-width="0.6"/>
<ellipse cx="427.5" cy="335.4" rx="50.5" ry="12" fill="#22c112" stroke="#1c8f2a" stroke-width="0.8"/>
<text x="497.00" y="319.20" font-size="12.2" text-anchor="middle" fill="#1d4b58" font-weight="bold" font-style="normal" >Coactivator</text>
<text x="432.20" y="339.30" font-size="13.2" text-anchor="middle" fill="#1a5e1a" font-weight="bold" font-style="normal" >Activator</text>
<rect x="476.40" y="326.60" width="31.70" height="18.10" rx="3" ry="3" fill="#ffbf00" stroke="#6f86a8" stroke-width="0.9" />
<text x="493.45" y="341.18" font-size="11.3" text-anchor="middle" font-weight="bold" fill="#111">ER<tspan font-style="italic">α</tspan></text>
<rect x="508.60" y="326.60" width="31.90" height="18.10" rx="3" ry="3" fill="#ffbf00" stroke="#6f86a8" stroke-width="0.9" />
<text x="523.75" y="340.98" font-size="11.3" text-anchor="middle" font-weight="bold" fill="#111">ER<tspan font-style="italic">α</tspan></text>
<ellipse cx="497.1" cy="327.0" rx="5.7" ry="2.4" transform="rotate(48 497.1 327)" fill="#f6892c" stroke="#6a86b0" stroke-width="0.7"/>
<ellipse cx="476.40" cy="346.60" rx="6.0" ry="4.3" fill="#ee0a14" stroke="#4f5fae" stroke-width="0.8"/>
<text x="476.40" y="349.62" font-size="9" text-anchor="middle" font-weight="bold" fill="#fff">P</text>
<ellipse cx="539.30" cy="346.60" rx="6.0" ry="4.3" fill="#ee0a14" stroke="#4f5fae" stroke-width="0.8"/>
<text x="539.30" y="349.62" font-size="9" text-anchor="middle" font-weight="bold" fill="#fff">P</text>
<rect x="482.7" y="345.9" width="51.1" height="14.6" fill="#fde1d5" stroke="#9cc49c" stroke-width="0.8"/>
<text x="508.20" y="357.80" font-size="12.6" text-anchor="middle" fill="#2a2a2a" font-weight="bold" font-style="normal" >TF</text>
<rect x="480.9" y="360.5" width="52.4" height="16.9" fill="#000"/>
<text x="509.60" y="373.20" font-size="11.3" text-anchor="middle" fill="#fff" font-weight="bold" font-style="normal" >RE</text>
<path d="M566.9,356.0 L566.9,341.7 C566.9,336.19 570.89,332.2 576.4,332.2 L619.0,332.2 L619.0,328.3 L626.6,335.35 L619.0,342.4 L619.0,338.8 L577.0,338.8 Q573.6,338.8 573.6,342.2 L573.6,356.0 Z" fill="#f60006" stroke="#4a4fa6" stroke-width="0.6" stroke-linejoin="round"/>
<text x="403.80" y="306.60" font-size="11.6" text-anchor="start" fill="#000" font-weight="bold" font-style="normal" >F.</text>
<text x="617.30" y="390.80" font-size="10" text-anchor="start" fill="#222" font-weight="bold" font-style="normal" >Figure 1</text>
<path d="M102.6,261.3 C100.5,262.0 94.2,263.1 90.2,265.5 C86.2,267.9 81.8,271.8 78.6,275.9 C75.3,280.0 72.3,285.6 70.7,289.9 C69.1,294.2 68.9,297.6 68.9,301.5 C68.9,305.4 70.3,311.3 70.6,313.3 L71.5,313.3 C71.7,311.7 72.2,306.9 72.9,303.8 C73.6,300.7 74.1,298.0 75.8,294.5 C77.5,291.0 80.5,286.2 83.3,282.9 C86.1,279.6 89.1,276.7 92.6,274.8 C96.1,272.9 102.3,271.9 104.2,271.3 Z" fill="#15539f"/>
<path d="M70.4,311.5 C71.0,313.3 72.0,319.0 74.0,322.4 C76.0,325.8 78.6,329.3 82.1,331.7 C85.6,334.1 90.9,335.6 94.9,336.6 C98.9,337.7 104.2,337.8 106.0,338.0 L107.7,342.9 L115.4,332.9 L104.2,323.4 L105.0,329.9 L105.0,329.9 C103.7,329.8 100.4,330.1 97.2,329.4 C94.0,328.7 88.9,327.6 85.6,325.9 C82.3,324.2 79.6,321.6 77.4,319.0 C75.2,316.4 73.1,311.9 72.2,310.5 Z" fill="#2a7cd6"/>
</g>
</svg></body></html>
